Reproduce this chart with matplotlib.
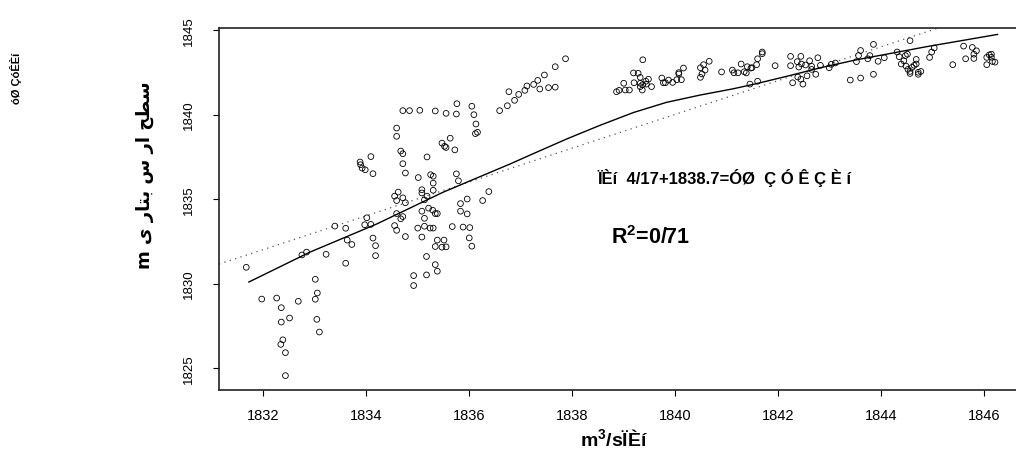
import matplotlib
matplotlib.use('Agg')
import matplotlib.pyplot as plt

plt.rcParams['font.family'] = ['Liberation Sans', 'DejaVu Sans']
plt.rcParams['mathtext.fontset'] = 'custom'
plt.rcParams['mathtext.bf'] = 'Liberation Sans:bold'
plt.rcParams['mathtext.rm'] = 'Liberation Sans:bold'
plt.rcParams['mathtext.default'] = 'bf'

# نقاط مشاهده شده (دبی در برابر تراز)
flow_a = [1831.68, 1831.98, 1832.27, 1832.36, 1832.36, 1832.52, 1832.39, 1832.35, 1832.44, 1832.44,
          1832.69, 1833.02, 1833.06, 1833.02, 1833.05, 1833.10, 1832.76, 1832.85, 1833.23, 1833.40,
          1833.61, 1833.61, 1833.64, 1833.73, 1834.02, 1833.98, 1834.10, 1834.14, 1834.19, 1834.19,
          1833.89, 1833.90, 1833.93, 1833.99, 1834.10, 1834.14, 1834.60, 1834.60, 1834.68, 1834.72,
          1834.72, 1834.77, 1834.72, 1834.85, 1835.05, 1835.35, 1835.56, 1835.76, 1835.77, 1836.06,
          1836.10, 1836.14, 1836.17, 1836.13, 1835.64, 1835.48, 1835.53, 1835.56, 1835.73, 1835.19,
          1835.02, 1835.26, 1835.31, 1835.31, 1835.76, 1835.80, 1834.63, 1834.56, 1834.60, 1834.72,
          1834.77, 1835.09, 1835.09, 1835.19, 1835.14, 1835.31, 1834.60, 1834.68, 1834.72, 1834.56,
          1834.60, 1834.77, 1835.09, 1835.14, 1835.22, 1835.30, 1835.35, 1835.39, 1835.01, 1835.14,
          1835.25, 1835.31, 1835.09, 1835.39, 1835.52, 1835.35, 1835.48, 1835.56, 1835.18, 1835.35,
          1835.39, 1835.18, 1834.93, 1834.93, 1835.68, 1835.84, 1835.84, 1835.97, 1835.89, 1835.97,
          1836.02, 1836.01, 1836.06, 1836.27, 1836.39, 1836.60, 1836.75, 1836.78]
level_a = [1830.96, 1829.08, 1829.14, 1828.57, 1827.72, 1827.96, 1826.67, 1826.40, 1825.91, 1824.55,
           1828.95, 1830.25, 1829.44, 1829.07, 1827.88, 1827.13, 1831.69, 1831.86, 1831.73, 1833.40,
           1833.27, 1831.20, 1832.57, 1832.31, 1833.89, 1833.48, 1833.50, 1832.69, 1832.24, 1831.65,
           1837.19, 1837.03, 1836.83, 1836.73, 1837.51, 1836.50, 1839.20, 1838.71, 1837.84, 1837.68,
           1837.09, 1836.54, 1840.23, 1840.23, 1840.25, 1840.21, 1840.07, 1840.03, 1840.64, 1840.49,
           1839.99, 1839.44, 1838.95, 1838.87, 1838.60, 1838.31, 1838.12, 1838.05, 1837.91, 1837.49,
           1836.27, 1836.44, 1836.35, 1835.94, 1836.49, 1836.08, 1835.41, 1835.17, 1834.91, 1835.07,
           1834.78, 1835.55, 1835.36, 1835.17, 1834.95, 1835.52, 1834.14, 1833.83, 1833.96, 1833.43,
           1833.15, 1832.78, 1834.28, 1833.86, 1834.46, 1834.34, 1834.14, 1834.14, 1833.28, 1833.39,
           1833.28, 1833.28, 1832.75, 1832.57, 1832.57, 1832.19, 1832.15, 1832.17, 1831.60, 1831.12,
           1830.73, 1830.51, 1830.47, 1829.88, 1833.37, 1834.28, 1834.73, 1835.00, 1833.34, 1834.12,
           1833.31, 1832.70, 1832.21, 1834.91, 1835.44, 1840.23, 1840.52, 1841.35]

flow_b = [1836.89, 1836.97, 1837.09, 1837.13, 1837.26, 1837.34, 1837.47, 1837.38, 1837.55, 1837.68,
          1837.68, 1837.88, 1838.87, 1838.92, 1839.04, 1839.12, 1839.01, 1839.21, 1839.20, 1839.29,
          1839.33, 1839.33, 1839.33, 1839.37, 1839.38, 1839.44, 1839.49, 1839.45, 1839.55, 1839.38,
          1839.75, 1839.78, 1839.82, 1839.88, 1839.96, 1840.04, 1840.08, 1840.08, 1840.13, 1840.17,
          1840.50, 1840.53, 1840.50, 1840.56, 1840.59, 1840.67, 1840.91, 1841.12, 1841.15, 1841.23,
          1841.29, 1841.35, 1841.41, 1841.39, 1841.48, 1841.50, 1841.59, 1841.61, 1841.46, 1841.61]
level_b = [1840.84, 1841.19, 1841.43, 1841.69, 1841.78, 1842.02, 1842.34, 1841.51, 1841.59, 1841.62,
           1842.83, 1843.30, 1841.35, 1841.43, 1841.45, 1841.45, 1841.85, 1841.88, 1842.46, 1842.44,
           1842.20, 1841.85, 1841.65, 1841.45, 1841.77, 1841.97, 1842.09, 1841.80, 1841.65, 1843.24,
           1842.16, 1841.88, 1841.88, 1842.04, 1841.90, 1842.06, 1842.40, 1842.48, 1842.06, 1842.75,
           1842.20, 1842.40, 1842.77, 1842.95, 1842.63, 1843.15, 1842.52, 1842.63, 1842.47, 1842.47,
           1842.99, 1842.53, 1842.83, 1842.46, 1842.75, 1842.77, 1842.95, 1843.30, 1841.80, 1841.97]

flow_c = [1841.70, 1841.70, 1841.95, 1842.25, 1842.25, 1842.38, 1842.45, 1842.41, 1842.46, 1842.54,
          1842.62, 1842.66, 1842.78, 1842.83, 1842.66, 1842.74, 1842.57, 1842.39, 1842.45, 1842.49,
          1842.29, 1843.00, 1843.04, 1843.12, 1843.41, 1843.61, 1843.86, 1843.53, 1843.57, 1843.61,
          1843.75, 1843.79, 1843.86, 1843.95, 1844.07, 1844.32, 1844.36, 1844.48, 1844.52, 1844.57,
          1844.45, 1844.40, 1844.49, 1844.53, 1844.57, 1844.57, 1844.61, 1844.65, 1844.69, 1844.69,
          1844.73, 1844.73, 1844.78, 1844.95, 1844.99, 1845.04, 1845.40, 1845.61, 1845.65, 1845.78,
          1845.81, 1845.86, 1845.81, 1846.06, 1846.11, 1846.15, 1846.15, 1846.06, 1846.17, 1846.22]
level_c = [1843.70, 1843.60, 1842.89, 1843.44, 1842.89, 1843.13, 1843.44, 1842.81, 1842.99, 1842.93,
           1843.18, 1842.85, 1843.36, 1842.91, 1842.67, 1842.38, 1842.29, 1842.22, 1842.09, 1841.80,
           1841.88, 1842.77, 1842.97, 1843.05, 1842.04, 1842.16, 1842.38, 1843.13, 1843.49, 1843.79,
           1843.30, 1843.49, 1844.15, 1843.15, 1843.36, 1843.70, 1843.42, 1843.49, 1843.57, 1844.37,
           1843.18, 1842.99, 1842.87, 1842.67, 1842.55, 1842.43, 1842.79, 1842.91, 1842.99, 1843.26,
           1842.50, 1842.38, 1842.55, 1843.38, 1843.70, 1843.94, 1842.95, 1844.05, 1843.30, 1843.97,
           1843.57, 1843.77, 1843.32, 1843.38, 1843.53, 1843.57, 1843.39, 1842.95, 1843.14, 1843.10]

# منحنی هموار (loess)
smooth_x = [1831.73, 1832.91, 1834.21, 1835.50, 1836.20, 1836.80, 1837.25, 1837.90, 1838.54,
            1839.20, 1839.84, 1840.49, 1841.13, 1841.55, 1842.20, 1842.85, 1843.50, 1844.90, 1846.27]
smooth_y = [1830.09, 1831.85, 1833.52, 1835.40, 1836.30, 1837.07, 1837.68, 1838.55, 1839.35,
            1840.12, 1840.72, 1841.15, 1841.52, 1841.80, 1842.28, 1842.78, 1843.22, 1844.02, 1844.74]

# خط رگرسیون خطی
fit_intercept = 0.0
fit_slope = 1.0

xticks = [1832, 1834, 1836, 1838, 1840, 1842, 1844, 1846]
yticks = [1825, 1830, 1835, 1840, 1845]

fig = plt.figure(figsize=(10.16, 4.52), dpi=100)
ax = fig.add_axes([219 / 1016, 1 - 391 / 452, (1030 - 219) / 1016, (391 - 29) / 452])

ax.scatter(flow_a + flow_b + flow_c, level_a + level_b + level_c, s=17,
           facecolors='none', edgecolors='black', linewidths=0.6, zorder=3)
ax.plot(smooth_x, smooth_y, color='black', lw=1.0, zorder=2)
ax.axline((xticks[0], xticks[0] * fit_slope + fit_intercept), slope=fit_slope,
          color='#555555', lw=0.9, linestyle=(0, (1, 3.5)), zorder=1)

ax.set_xlim(1831.15, 1846.9)
ax.set_ylim(1823.7, 1845.12)
ax.set_xticks(xticks)
ax.set_yticks(yticks)
ax.tick_params(direction='out', length=4, width=0.8, colors='black')
ax.tick_params(axis='x', labelsize=10.5, pad=9)
ax.tick_params(axis='y', labelsize=9.5, pad=13)
plt.setp(ax.get_yticklabels(), rotation=90, va='center')
for s in ax.spines.values():
    s.set_linewidth(1.2)
    s.set_color('#222222')

fig.text(614 / 1016, 1 - 440 / 452, 'm$^{3}$/sÏÈí', fontsize=14, fontweight='bold',
         ha='center', va='center')
fig.text(145 / 1016, 1 - 175 / 452, 'm ﻯ ﺭﺎﺘﺑ ﺱ ﺭﺍ ﺢﻄﺳ', fontsize=13, fontweight='bold',
         rotation=90, ha='center', va='center', family=['DejaVu Sans'])
fig.text(16 / 1016, 1 - 78 / 452, 'óØ ÇóÊÈí', fontsize=8, fontweight='bold',
         rotation=90, ha='center', va='center')

ax.text(1840.97, 1836.3, 'ÏÈí  4/17+1838.7=ÓØ  Ç Ó Ê Ç È í', fontsize=12, fontweight='bold',
        ha='center', va='center')
ax.text(1839.53, 1832.8, 'R$^{2}$=0/71', fontsize=15.5, fontweight='bold',
        ha='center', va='center')

fig.savefig('out.png', dpi=100)
